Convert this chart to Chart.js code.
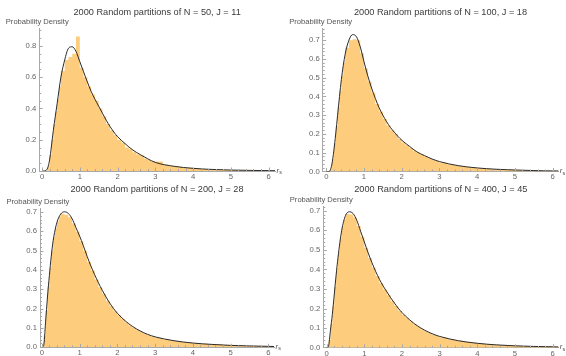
<!DOCTYPE html>
<html>
<head>
<meta charset="utf-8">
<script src="https://cdn.jsdelivr.net/npm/chart.js@4/dist/chart.umd.min.js"></script>
<style>
  body { margin: 0; background: #fff; width: 566px; height: 356px; overflow: hidden; position: relative; }
  canvas { position: absolute; }
</style>
</head>
<body>
<canvas id="c1" width="283" height="180" style="left:0px;top:0px"></canvas>
<canvas id="c2" width="283" height="180" style="left:283px;top:0px"></canvas>
<canvas id="c3" width="283" height="178" style="left:0px;top:178px"></canvas>
<canvas id="c4" width="283" height="178" style="left:283px;top:178px"></canvas>
<script>
// histogram bins: left edge of every bin, the last value closes the axis
const binEdges = [0, 0.05, 0.1, 0.15, 0.2, 0.25, 0.3, 0.35, 0.4, 0.45,
  0.5, 0.6, 0.7, 0.8, 0.9, 1.0, 1.1, 1.2, 1.3, 1.4, 1.5, 1.6, 1.7, 1.8, 1.9,
  2.0, 2.1, 2.2, 2.3, 2.4, 2.5, 2.6, 2.7, 2.8, 2.9,
  3.0, 3.2, 3.4, 3.6, 3.8, 4.0, 4.2, 4.4, 4.6, 4.8, 5.0, 5.2, 5.4, 5.6, 5.8, 6.0, 6.18];

const curveX = [0, 0.05, 0.1, 0.15, 0.2, 0.25, 0.3, 0.4, 0.5, 0.6, 0.7, 0.8, 0.9,
  1.0, 1.1, 1.2, 1.3, 1.4, 1.5, 1.6, 1.7, 1.8, 1.9, 2.0, 2.2, 2.4, 2.6, 2.8, 3.0,
  3.5, 4.0, 4.5, 5.0, 5.5, 6.0, 6.18];

// N = 50, J = 11
const hist50 = [0, 0, 0.005, 0.03, 0.1, 0.2, 0.3, 0.38, 0.46, 0.54,
  0.64, 0.71, 0.73, 0.75, 0.86, 0.66, 0.60, 0.54, 0.49, 0.45, 0.40, 0.35, 0.30, 0.26, 0.23,
  0.20, 0.18, 0.15, 0.14, 0.12, 0.105, 0.10, 0.08, 0.07, 0.062,
  0.06, 0.04, 0.03, 0.026, 0.02, 0.016, 0.013, 0.011, 0.009, 0.007, 0.006, 0.005, 0.004, 0.003, 0.003, 0.002, 0.002];
const curve50 = [0, 0, 0.003, 0.02, 0.07, 0.16, 0.26, 0.43, 0.60, 0.71, 0.785, 0.795, 0.765,
  0.70, 0.635, 0.57, 0.51, 0.46, 0.415, 0.37, 0.325, 0.285, 0.25, 0.22, 0.175, 0.135, 0.105, 0.078, 0.055,
  0.03, 0.017, 0.01, 0.006, 0.004, 0.002, 0.002];

// N = 100, J = 18
const hist100 = [0, 0, 0.015, 0.065, 0.15, 0.24, 0.34, 0.43, 0.51, 0.58,
  0.66, 0.70, 0.705, 0.70, 0.63, 0.55, 0.48, 0.42, 0.36, 0.32, 0.28, 0.245, 0.22, 0.2, 0.175,
  0.155, 0.14, 0.125, 0.11, 0.1, 0.09, 0.08, 0.07, 0.063, 0.056,
  0.047, 0.037, 0.03, 0.025, 0.021, 0.017, 0.014, 0.012, 0.01, 0.009, 0.007, 0.006, 0.005, 0.004, 0.004, 0.003, 0.003];
const curve100 = [0, 0, 0.005, 0.04, 0.11, 0.2, 0.3, 0.49, 0.625, 0.70, 0.73, 0.718, 0.665,
  0.585, 0.51, 0.445, 0.39, 0.34, 0.30, 0.265, 0.235, 0.21, 0.187, 0.167, 0.135, 0.105, 0.085, 0.067, 0.053,
  0.031, 0.019, 0.012, 0.008, 0.005, 0.003, 0.003];

// N = 200, J = 28
const hist200 = [0, 0.06, 0.19, 0.31, 0.41, 0.5, 0.57, 0.615, 0.65, 0.675,
  0.69, 0.685, 0.672, 0.64, 0.598, 0.548, 0.498, 0.44, 0.397, 0.35, 0.31, 0.276, 0.24, 0.212, 0.186,
  0.165, 0.146, 0.128, 0.113, 0.101, 0.089, 0.079, 0.07, 0.062, 0.055,
  0.048, 0.04, 0.034, 0.029, 0.025, 0.021, 0.018, 0.016, 0.014, 0.012, 0.01, 0.009, 0.008, 0.007, 0.006, 0.005, 0.005];
const curve200 = [0, 0.01, 0.13, 0.26, 0.37, 0.47, 0.55, 0.645, 0.688, 0.70, 0.692, 0.665, 0.62,
  0.575, 0.525, 0.47, 0.42, 0.375, 0.333, 0.295, 0.26, 0.228, 0.2, 0.176, 0.138, 0.108, 0.085, 0.067, 0.054,
  0.034, 0.022, 0.015, 0.01, 0.007, 0.005, 0.004];

// N = 400, J = 45
const hist400 = [0, 0.04, 0.12, 0.21, 0.31, 0.405, 0.49, 0.56, 0.62, 0.655,
  0.684, 0.68, 0.665, 0.622, 0.567, 0.51, 0.458, 0.41, 0.366, 0.33, 0.298, 0.268, 0.238, 0.213, 0.189,
  0.169, 0.151, 0.134, 0.119, 0.106, 0.094, 0.084, 0.075, 0.067, 0.06,
  0.052, 0.043, 0.036, 0.031, 0.026, 0.022, 0.019, 0.016, 0.014, 0.012, 0.011, 0.009, 0.008, 0.007, 0.006, 0.005, 0.005];
const curve400 = [0, 0.01, 0.09, 0.17, 0.27, 0.37, 0.46, 0.60, 0.675, 0.694, 0.685, 0.65, 0.595,
  0.54, 0.485, 0.435, 0.39, 0.35, 0.315, 0.285, 0.255, 0.228, 0.202, 0.18, 0.143, 0.113, 0.09, 0.072, 0.058,
  0.036, 0.023, 0.015, 0.01, 0.007, 0.005, 0.004];

const titles = [
  "2000 Random partitions of N = 50, J = 11",
  "2000 Random partitions of N = 100, J = 18",
  "2000 Random partitions of N = 200, J = 28",
  "2000 Random partitions of N = 400, J = 45"
];
const yLabel = "Probability Density";

Chart.defaults.font.family = "Arial, 'Liberation Sans', sans-serif";

// the placement of each panel inside its canvas
const panels = [
  { id: "c1", hist: hist50, curve: curve50, xMin: -0.072, xMax: 6.17, yMax: 0.915, yStep: 0.2, yMinor: 0.05,
    axisW: 39.3, axisH: 9, padRight: 8, titleTop: 7, titleBottom: 9.96 },
  { id: "c2", hist: hist100, curve: curve100, xMin: -0.095, xMax: 6.15, yMax: 0.765, yStep: 0.1, yMinor: 0.02,
    axisW: 39.7, axisH: 8.5, padRight: 7.7, titleTop: 7, titleBottom: 9.96 },
  { id: "c3", hist: hist200, curve: curve200, xMin: -0.048, xMax: 6.15, yMax: 0.718, yStep: 0.1, yMinor: 0.02,
    axisW: 40, axisH: 8.7, padRight: 9, titleTop: 6, titleBottom: 13.26 },
  { id: "c4", hist: hist400, curve: curve400, xMin: -0.09, xMax: 6.15, yMax: 0.72, yStep: 0.1, yMinor: 0.02,
    axisW: 40.3, axisH: 8.2, padRight: 7.7, titleTop: 5.5, titleBottom: 12.16 }
];

function toPoints(xs, ys) {
  return xs.map((x, i) => ({ x: x, y: ys[i] }));
}

// inward tick marks, the y label above the axis and the r_s label
const axisDecor = {
  id: "axisDecor",
  afterDraw(chart, args, opts) {
    const ctx = chart.ctx;
    const xs = chart.scales.x;
    const ys = chart.scales.y;
    const area = chart.chartArea;
    ctx.save();
    ctx.strokeStyle = "#a8a8a8";
    ctx.lineWidth = 1;
    ctx.beginPath();
    for (let k = 0; k <= 30; k++) {
      const px = Math.round(xs.getPixelForValue(k * 0.2)) + 0.5;
      const len = k % 5 == 0 ? 3.5 : 2;
      ctx.moveTo(px, area.bottom);
      ctx.lineTo(px, area.bottom - len);
    }
    const per = Math.round(opts.yStep / opts.yMinor);
    for (let k = 1; k * opts.yMinor <= ys.max; k++) {
      const py = Math.round(ys.getPixelForValue(k * opts.yMinor)) + 0.5;
      const len = k % per == 0 ? 3.5 : 2;
      ctx.moveTo(area.left, py);
      ctx.lineTo(area.left + len, py);
    }
    ctx.stroke();

    ctx.fillStyle = "#555";
    ctx.textBaseline = "middle";
    ctx.textAlign = "left";
    ctx.font = "7.6px Arial, 'Liberation Sans', sans-serif";
    ctx.fillText(yLabel, area.left - 33.5, area.top - 6.5);
    ctx.font = "italic 7.6px Arial, 'Liberation Sans', sans-serif";
    ctx.fillText("r", area.right + 1.5, area.bottom - 0.5);
    ctx.font = "5.5px Arial, 'Liberation Sans', sans-serif";
    ctx.fillText("s", area.right + 4.3, area.bottom + 1.5);
    ctx.restore();
  }
};

panels.forEach((p, i) => {
  new Chart(document.getElementById(p.id), {
    type: "line",
    data: {
      datasets: [
        {
          data: toPoints(curveX, p.curve),
          borderColor: "#2a2a2a",
          borderWidth: 1,
          pointRadius: 0,
          cubicInterpolationMode: "monotone",
          fill: false,
          order: 1
        },
        {
          data: toPoints(binEdges, p.hist),
          stepped: true,
          borderWidth: 0,
          borderColor: "rgba(0,0,0,0)",
          backgroundColor: "rgb(253,205,125)",
          pointRadius: 0,
          fill: "origin",
          order: 2
        }
      ]
    },
    options: {
      responsive: false,
      animation: false,
      events: [],
      layout: { padding: { left: 0, right: p.padRight, top: 0, bottom: 0 } },
      plugins: {
        legend: { display: false },
        tooltip: { enabled: false },
        title: {
          display: true,
          text: titles[i],
          fullSize: false,
          color: "#3a3a3a",
          font: { size: 9.2, weight: "normal", lineHeight: 1.2 },
          padding: { top: p.titleTop, bottom: p.titleBottom }
        },
        axisDecor: { yStep: p.yStep, yMinor: p.yMinor }
      },
      scales: {
        x: {
          type: "linear",
          min: p.xMin,
          max: p.xMax,
          afterFit: s => { s.height = p.axisH; },
          grid: { display: false, drawTicks: false },
          border: { display: true, color: "#a8a8a8", width: 1 },
          ticks: {
            stepSize: 1,
            includeBounds: false,
            autoSkip: false,
            maxRotation: 0,
            padding: 1,
            color: "#666",
            font: { size: 7.7 },
            callback: v => v.toFixed(0)
          }
        },
        y: {
          min: 0,
          max: p.yMax,
          afterFit: s => { s.width = p.axisW; },
          grid: { display: false, drawTicks: false },
          border: { display: true, color: "#a8a8a8", width: 1 },
          ticks: {
            stepSize: p.yStep,
            includeBounds: false,
            autoSkip: false,
            padding: 3,
            color: "#666",
            font: { size: 7.7 },
            callback: v => v.toFixed(1)
          }
        }
      }
    },
    plugins: [axisDecor]
  });
});
</script>
</body>
</html>
